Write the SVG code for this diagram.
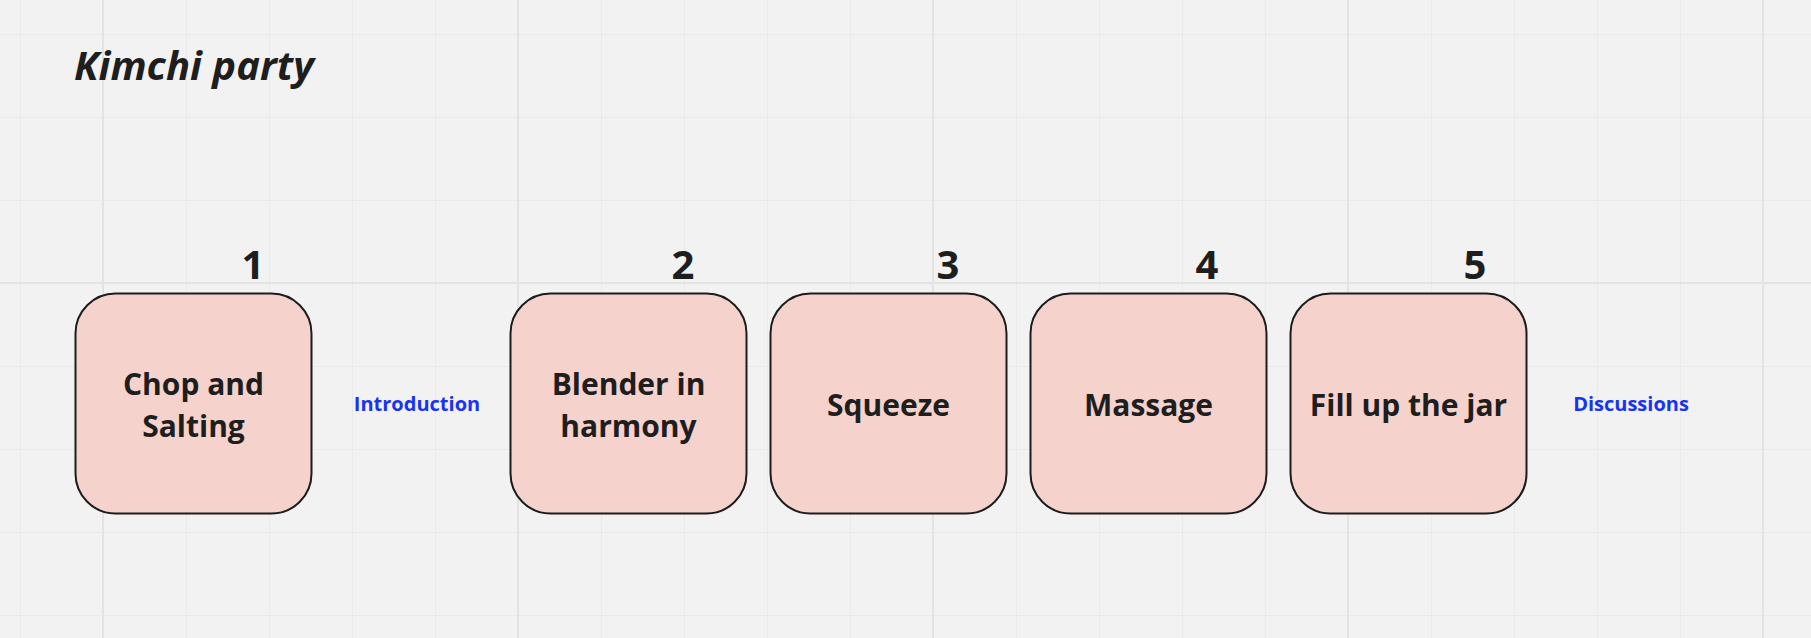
<svg xmlns="http://www.w3.org/2000/svg" width="1811" height="638" viewBox="0 0 1811 638">
<style>
.minor{stroke:#eaeaea;stroke-width:1}
.major{stroke:#e3e3e3;stroke-width:2}
.box{fill:#f5d2cc;stroke:#1c1c1c;stroke-width:2}
.lbl{font-family:"Open Sans","Liberation Sans",sans-serif;font-weight:700;font-size:30px;fill:#1e1e1e;text-anchor:middle}
.num{font-family:"Open Sans","Liberation Sans",sans-serif;font-weight:700;font-size:40px;fill:#1e1e1e;text-anchor:middle}
.note{font-family:"Open Sans","Liberation Sans",sans-serif;font-weight:700;font-size:20px;fill:#1733f5;text-anchor:middle}
</style>
<rect width="1811" height="638" fill="#f2f2f2"/>
<g id="grid">
<path class="minor" d="M20.5 0V638M186.5 0V638M269.5 0V638M352.5 0V638M435.5 0V638M601.5 0V638M684.5 0V638M767.5 0V638M850.5 0V638M1016.5 0V638M1099.5 0V638M1182.5 0V638M1265.5 0V638M1431.5 0V638M1514.5 0V638M1597.5 0V638M1680.5 0V638M0 34.5H1811M0 117.5H1811M0 200.5H1811M0 366.5H1811M0 449.5H1811M0 532.5H1811M0 615.5H1811"/>
<path class="major" d="M103 0V638M518 0V638M933 0V638M1348 0V638M1763 0V638M0 283H1811"/>
</g>
<text id="title" x="74" y="80" font-family="'Open Sans','Liberation Sans',sans-serif" font-weight="700" font-style="italic" font-size="40" fill="#1e1e1e">Kimchi party</text>
<g id="connectors"></g>
<g id="node1">
<rect class="box" x="75.5" y="293.5" width="236" height="220" rx="40" ry="40"/>
<text class="num" x="253" y="279">1</text>
<text class="lbl" x="193.5" y="395">Chop and</text>
<text class="lbl" x="193.5" y="437">Salting</text>
</g>
<g id="node2">
<rect class="box" x="510.5" y="293.5" width="236" height="220" rx="40" ry="40"/>
<text class="num" x="683" y="279">2</text>
<text class="lbl" x="628.5" y="395">Blender in</text>
<text class="lbl" x="628.5" y="437">harmony</text>
</g>
<g id="node3">
<rect class="box" x="770.5" y="293.5" width="236" height="220" rx="40" ry="40"/>
<text class="num" x="948" y="279">3</text>
<text class="lbl" x="888.5" y="416">Squeeze</text>
</g>
<g id="node4">
<rect class="box" x="1030.5" y="293.5" width="236" height="220" rx="40" ry="40"/>
<text class="num" x="1207" y="279">4</text>
<text class="lbl" x="1148.5" y="416">Massage</text>
</g>
<g id="node5">
<rect class="box" x="1290.5" y="293.5" width="236" height="220" rx="40" ry="40"/>
<text class="num" x="1475" y="279">5</text>
<text class="lbl" x="1408.5" y="416">Fill up the jar</text>
</g>
<g id="intro"><text class="note" x="417" y="411">Introduction</text></g>
<g id="disc"><text class="note" x="1631" y="411">Discussions</text></g>
</svg>
